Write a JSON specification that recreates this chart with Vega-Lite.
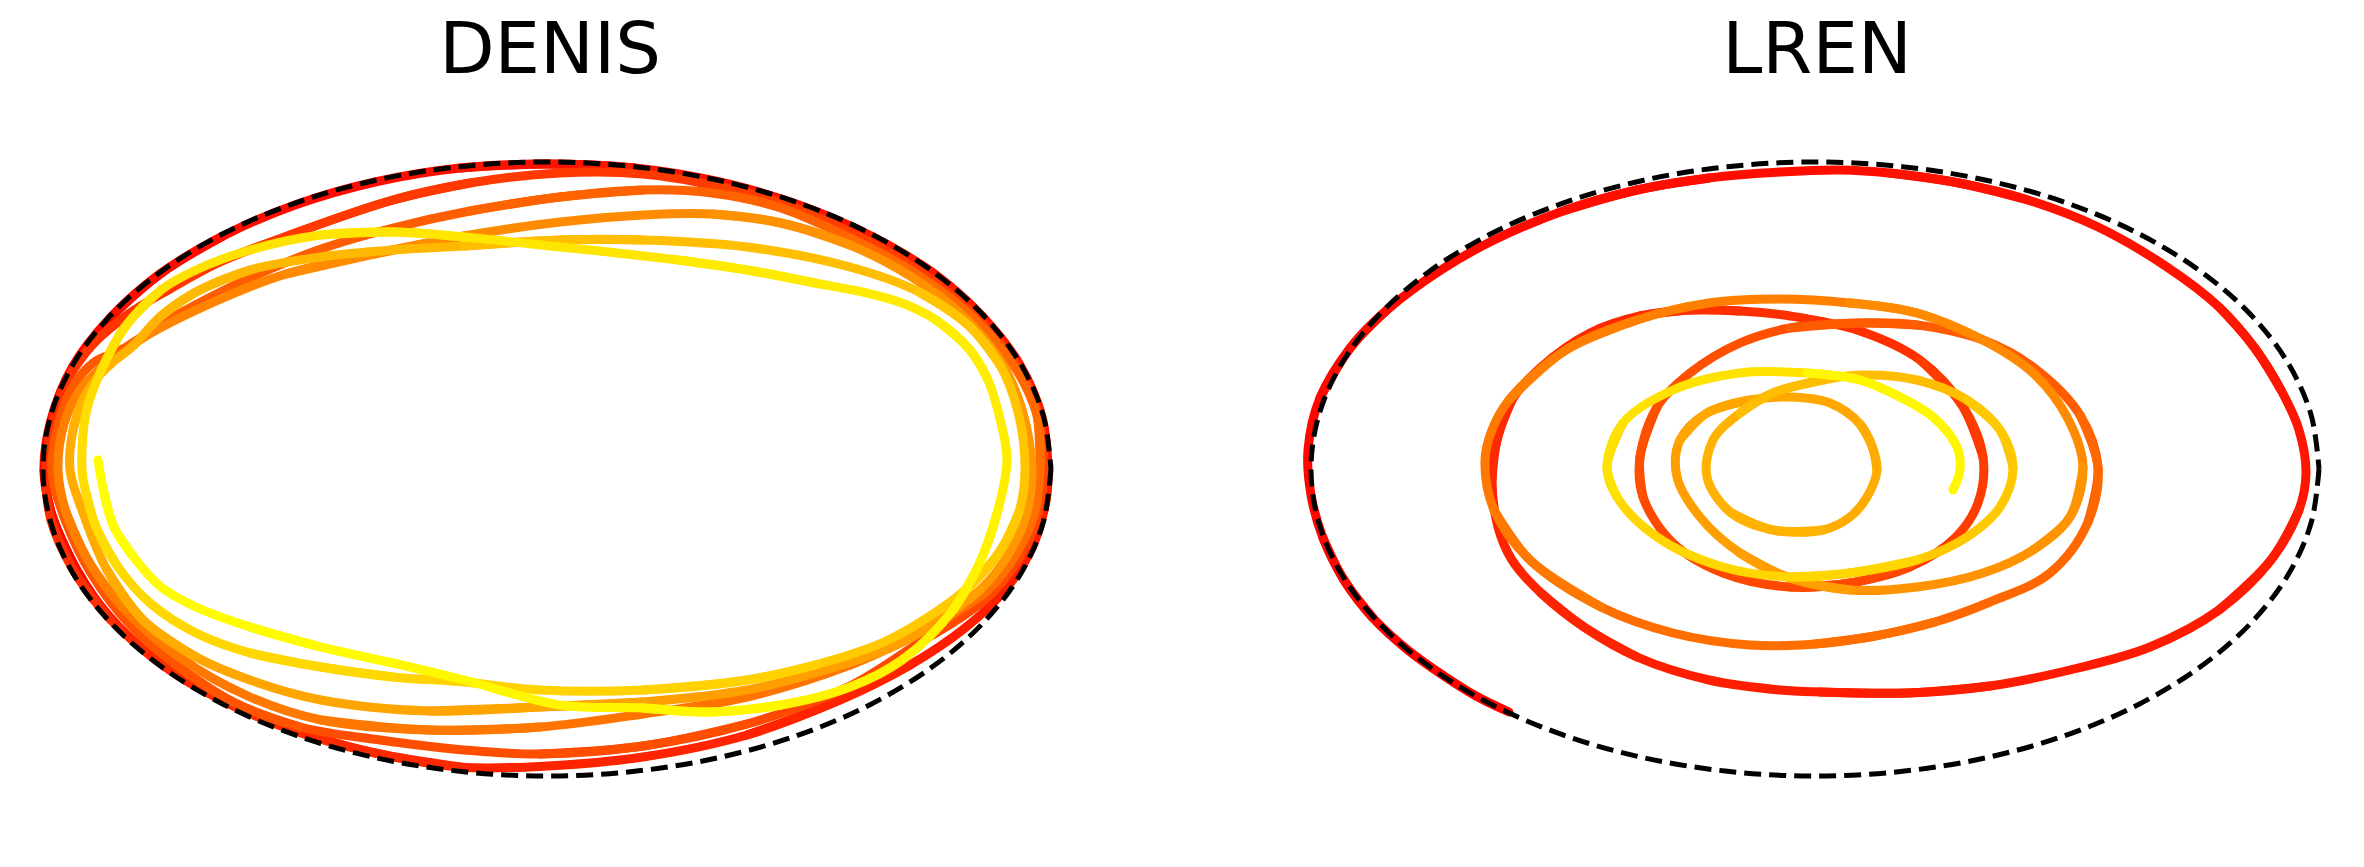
{
"$schema": "https://vega.github.io/schema/vega-lite/v6.json",
"background": "white",
"padding": 0,
"spacing": 170,
"config": {
  "view": {"stroke": null},
  "title": {"font": "DejaVu Sans", "fontSize": 72, "fontWeight": "normal", "color": "black", "anchor": "middle", "baseline": "alphabetic", "offset": -88}
},
"datasets": {
"denis": [
{"x":243,"y":708,"a":0.008},{"x":190,"y":683,"a":0.008},{"x":140,"y":647,"a":0.008},{"x":100,"y":605,"a":0.008},{"x":70,"y":557,"a":0.008,"b":0.028},
{"x":51,"y":512,"a":0.028,"b":0.008},{"x":44,"y":470,"a":0.028,"b":0.008},{"x":51,"y":420,"a":0.028},{"x":73,"y":366,"a":0.028},{"x":110,"y":318,"a":0.028,"b":0.048},
{"x":160,"y":274,"a":0.048,"b":0.028},{"x":223,"y":236,"a":0.048,"b":0.028},{"x":295,"y":205,"a":0.048},{"x":375,"y":182,"a":0.048},{"x":460,"y":168,"a":0.048,"b":0.068},
{"x":547,"y":164,"a":0.068,"b":0.048},{"x":635,"y":168,"a":0.068,"b":0.048},{"x":720,"y":182,"a":0.068},{"x":799,"y":205,"a":0.068},{"x":871,"y":236,"a":0.068,"b":0.09},
{"x":933,"y":273,"a":0.09,"b":0.068},{"x":983,"y":317,"a":0.09,"b":0.068},{"x":1020,"y":365,"a":0.09},{"x":1042,"y":417,"a":0.09},{"x":1048,"y":470,"a":0.09,"b":0.112},
{"x":1046,"y":500,"a":0.112,"b":0.09},{"x":1032,"y":548,"a":0.112,"b":0.09},{"x":1005,"y":590,"a":0.112},{"x":965,"y":628,"a":0.112},{"x":910,"y":665,"a":0.112,"b":0.136},
{"x":840,"y":700,"a":0.136,"b":0.112},{"x":747,"y":735,"a":0.136,"b":0.112},{"x":643,"y":757,"a":0.136},{"x":547,"y":766,"a":0.136},{"x":460,"y":767,"a":0.136,"b":0.16},
{"x":375,"y":753,"a":0.16,"b":0.136},{"x":295,"y":731,"a":0.16,"b":0.136},{"x":223,"y":701,"a":0.16},{"x":161,"y":663,"a":0.16},{"x":111,"y":620,"a":0.16,"b":0.182},
{"x":74,"y":571,"a":0.182,"b":0.16},{"x":51,"y":520,"a":0.182,"b":0.16},{"x":46,"y":470,"a":0.182},{"x":53,"y":420,"a":0.182},{"x":68,"y":378,"a":0.182,"b":0.202},
{"x":94,"y":343,"a":0.202,"b":0.182},{"x":130,"y":313,"a":0.202,"b":0.182},{"x":170,"y":289,"a":0.202},{"x":220,"y":262,"a":0.202},{"x":290,"y":235,"a":0.202,"b":0.222},
{"x":393,"y":200,"a":0.222,"b":0.202},{"x":470,"y":183,"a":0.222,"b":0.202},{"x":560,"y":173,"a":0.222},{"x":643,"y":174,"a":0.222},{"x":712,"y":185,"a":0.222,"b":0.243},
{"x":781,"y":203,"a":0.243,"b":0.222},{"x":850,"y":232,"a":0.243,"b":0.222},{"x":910,"y":265,"a":0.243},{"x":960,"y":302,"a":0.243},{"x":1000,"y":343,"a":0.243,"b":0.263},
{"x":1025,"y":380,"a":0.263,"b":0.243},{"x":1038,"y":415,"a":0.263,"b":0.243},{"x":1044,"y":470,"a":0.263},{"x":1038,"y":515,"a":0.263},{"x":1020,"y":557,"a":0.263,"b":0.283},
{"x":993,"y":592,"a":0.283,"b":0.263},{"x":960,"y":618,"a":0.283,"b":0.263},{"x":919,"y":643,"a":0.283},{"x":850,"y":686,"a":0.283},{"x":747,"y":724,"a":0.283,"b":0.305},
{"x":643,"y":746,"a":0.305,"b":0.283},{"x":540,"y":754,"a":0.305,"b":0.283},{"x":464,"y":750,"a":0.305},{"x":380,"y":740,"a":0.305},{"x":300,"y":727,"a":0.305,"b":0.328},
{"x":235,"y":703,"a":0.328,"b":0.305},{"x":180,"y":668,"a":0.328,"b":0.305},{"x":130,"y":625,"a":0.328},{"x":92,"y":575,"a":0.328},{"x":66,"y":522,"a":0.328,"b":0.35},
{"x":52,"y":470,"a":0.35,"b":0.328},{"x":59,"y":422,"a":0.35,"b":0.328},{"x":72,"y":388,"a":0.35},{"x":93,"y":363,"a":0.35},{"x":125,"y":348,"a":0.35,"b":0.37},
{"x":179,"y":314,"a":0.37,"b":0.35},{"x":250,"y":278,"a":0.37,"b":0.35},{"x":321,"y":249,"a":0.37},{"x":393,"y":228,"a":0.37},{"x":470,"y":211,"a":0.37,"b":0.39},
{"x":560,"y":197,"a":0.39,"b":0.37},{"x":643,"y":190,"a":0.39,"b":0.37},{"x":712,"y":193,"a":0.39},{"x":781,"y":208,"a":0.39},{"x":850,"y":238,"a":0.39,"b":0.41},
{"x":910,"y":270,"a":0.41,"b":0.39},{"x":960,"y":306,"a":0.41,"b":0.39},{"x":1000,"y":347,"a":0.41},{"x":1025,"y":385,"a":0.41},{"x":1038,"y":420,"a":0.41,"b":0.43},
{"x":1040,"y":470,"a":0.43,"b":0.41},{"x":1034,"y":515,"a":0.43,"b":0.41},{"x":1015,"y":556,"a":0.43},{"x":988,"y":590,"a":0.43},{"x":955,"y":613,"a":0.43,"b":0.45},
{"x":910,"y":638,"a":0.45,"b":0.43},{"x":850,"y":665,"a":0.45,"b":0.43},{"x":747,"y":697,"a":0.45},{"x":643,"y":714,"a":0.45},{"x":540,"y":727,"a":0.45,"b":0.473},
{"x":429,"y":730,"a":0.473,"b":0.45},{"x":321,"y":720,"a":0.473,"b":0.45},{"x":250,"y":697,"a":0.473},{"x":179,"y":657,"a":0.473},{"x":125,"y":610,"a":0.473,"b":0.498},
{"x":89,"y":562,"a":0.498,"b":0.473},{"x":66,"y":512,"a":0.498,"b":0.473},{"x":58,"y":470,"a":0.498},{"x":64,"y":424,"a":0.498},{"x":78,"y":393,"a":0.498,"b":0.522},
{"x":98,"y":371,"a":0.522,"b":0.498},{"x":118,"y":357,"a":0.522,"b":0.498},{"x":143,"y":338,"a":0.522},{"x":214,"y":302,"a":0.522},{"x":286,"y":274,"a":0.522,"b":0.547},
{"x":393,"y":250,"a":0.547,"b":0.522},{"x":470,"y":235,"a":0.547,"b":0.522},{"x":560,"y":222,"a":0.547},{"x":643,"y":215,"a":0.547},{"x":712,"y":214,"a":0.547,"b":0.572},
{"x":781,"y":223,"a":0.572,"b":0.547},{"x":850,"y":245,"a":0.572,"b":0.547},{"x":910,"y":276,"a":0.572},{"x":960,"y":313,"a":0.572},{"x":1000,"y":360,"a":0.572,"b":0.597},
{"x":1022,"y":410,"a":0.597,"b":0.572},{"x":1032,"y":470,"a":0.597,"b":0.572},{"x":1026,"y":516,"a":0.597},{"x":1008,"y":555,"a":0.597},{"x":980,"y":590,"a":0.597,"b":0.622},
{"x":943,"y":618,"a":0.622,"b":0.597},{"x":890,"y":648,"a":0.622,"b":0.597},{"x":815,"y":673,"a":0.622},{"x":747,"y":690,"a":0.622},{"x":643,"y":702,"a":0.622,"b":0.647},
{"x":540,"y":707,"a":0.647,"b":0.622},{"x":429,"y":711,"a":0.647,"b":0.622},{"x":321,"y":700,"a":0.647},{"x":250,"y":680,"a":0.647},{"x":196,"y":657,"a":0.647,"b":0.672},
{"x":143,"y":620,"a":0.672,"b":0.647},{"x":107,"y":570,"a":0.672,"b":0.647},{"x":82,"y":510,"a":0.672},{"x":70,"y":470,"a":0.672},{"x":73,"y":430,"a":0.672,"b":0.697},
{"x":82,"y":402,"a":0.697,"b":0.672},{"x":97,"y":378,"a":0.697,"b":0.672},{"x":113,"y":362,"a":0.697},{"x":132,"y":347,"a":0.697},{"x":161,"y":316,"a":0.697,"b":0.722},
{"x":196,"y":292,"a":0.722,"b":0.697},{"x":250,"y":270,"a":0.722,"b":0.697},{"x":321,"y":257,"a":0.722},{"x":393,"y":250,"a":0.722},{"x":464,"y":246,"a":0.722,"b":0.747},
{"x":560,"y":240,"a":0.747,"b":0.722},{"x":643,"y":240,"a":0.747,"b":0.722},{"x":747,"y":247,"a":0.747},{"x":850,"y":267,"a":0.747},{"x":919,"y":292,"a":0.747,"b":0.772},
{"x":968,"y":325,"a":0.772,"b":0.747},{"x":1000,"y":365,"a":0.772,"b":0.747},{"x":1018,"y":412,"a":0.772},{"x":1025,"y":470,"a":0.772},{"x":1019,"y":512,"a":0.772,"b":0.797},
{"x":1000,"y":551,"a":0.797,"b":0.772},{"x":972,"y":584,"a":0.797,"b":0.772},{"x":936,"y":612,"a":0.797},{"x":884,"y":642,"a":0.797},{"x":815,"y":665,"a":0.797,"b":0.822},
{"x":747,"y":680,"a":0.822,"b":0.797},{"x":643,"y":690,"a":0.822,"b":0.797},{"x":540,"y":690,"a":0.822},{"x":464,"y":682,"a":0.822},{"x":393,"y":677,"a":0.822,"b":0.847},
{"x":321,"y":667,"a":0.847,"b":0.822},{"x":250,"y":653,"a":0.847,"b":0.822},{"x":196,"y":633,"a":0.847},{"x":150,"y":603,"a":0.847},{"x":118,"y":567,"a":0.847,"b":0.868},
{"x":96,"y":527,"a":0.868,"b":0.847},{"x":86,"y":493,"a":0.868,"b":0.847},{"x":82,"y":470,"a":0.868},{"x":86,"y":413,"a":0.868},{"x":100,"y":373,"a":0.868,"b":0.885},
{"x":125,"y":327,"a":0.885,"b":0.868},{"x":161,"y":290,"a":0.885,"b":0.868},{"x":196,"y":270,"a":0.885},{"x":250,"y":250,"a":0.885},{"x":321,"y":235,"a":0.885,"b":0.902},
{"x":393,"y":232,"a":0.902,"b":0.885},{"x":464,"y":237,"a":0.902,"b":0.885},{"x":560,"y":247,"a":0.902},{"x":609,"y":252,"a":0.902},{"x":678,"y":260,"a":0.902,"b":0.918},
{"x":747,"y":270,"a":0.918,"b":0.902},{"x":815,"y":283,"a":0.918,"b":0.902},{"x":867,"y":293,"a":0.918},{"x":902,"y":303,"a":0.918},{"x":936,"y":320,"a":0.918,"b":0.935},
{"x":970,"y":350,"a":0.935,"b":0.918},{"x":988,"y":380,"a":0.935,"b":0.918},{"x":1001,"y":423,"a":0.935},{"x":1007,"y":460,"a":0.935},{"x":998,"y":510,"a":0.935,"b":0.952},
{"x":981,"y":560,"a":0.952,"b":0.935},{"x":953,"y":610,"a":0.952,"b":0.935},{"x":902,"y":660,"a":0.952},{"x":850,"y":687,"a":0.952},{"x":781,"y":705,"a":0.952,"b":0.968},
{"x":712,"y":712,"a":0.968,"b":0.952},{"x":643,"y":708,"a":0.968,"b":0.952},{"x":560,"y":705,"a":0.968},{"x":464,"y":680,"a":0.968},{"x":393,"y":663,"a":0.968,"b":0.985},
{"x":321,"y":647,"a":0.985,"b":0.968},{"x":250,"y":627,"a":0.985,"b":0.968},{"x":196,"y":607,"a":0.985},{"x":161,"y":587,"a":0.985},{"x":136,"y":560,"a":0.985,"b":1},
{"x":114,"y":527,"a":1,"b":0.985},{"x":104,"y":493,"a":1,"b":0.985},{"x":98,"y":460,"a":1}
],
"lren": [
{"x":1509,"y":712,"a":0.006},{"x":1476,"y":696,"a":0.006},{"x":1444,"y":676,"a":0.006},{"x":1409,"y":651,"a":0.006},{"x":1373,"y":618,"a":0.006,"b":0.023},
{"x":1344,"y":580,"a":0.023,"b":0.006},{"x":1323,"y":538,"a":0.023,"b":0.006},{"x":1311,"y":495,"a":0.023},{"x":1308,"y":450,"a":0.023},{"x":1320,"y":398,"a":0.023,"b":0.038},
{"x":1351,"y":347,"a":0.038,"b":0.023},{"x":1387,"y":310,"a":0.038,"b":0.023},{"x":1441,"y":270,"a":0.038},{"x":1494,"y":240,"a":0.038},{"x":1566,"y":210,"a":0.038,"b":0.055},
{"x":1637,"y":190,"a":0.055,"b":0.038},{"x":1709,"y":178,"a":0.055,"b":0.038},{"x":1780,"y":172,"a":0.055},{"x":1840,"y":170,"a":0.055},{"x":1889,"y":173,"a":0.055,"b":0.071},
{"x":1959,"y":183,"a":0.071,"b":0.055},{"x":2028,"y":200,"a":0.071,"b":0.055},{"x":2098,"y":227,"a":0.071},{"x":2167,"y":267,"a":0.071},{"x":2219,"y":307,"a":0.071,"b":0.087},
{"x":2254,"y":347,"a":0.087,"b":0.071},{"x":2281,"y":390,"a":0.087,"b":0.071},{"x":2299,"y":430,"a":0.087},{"x":2306,"y":473,"a":0.087},{"x":2299,"y":510,"a":0.087,"b":0.104},
{"x":2271,"y":560,"a":0.104,"b":0.087},{"x":2219,"y":610,"a":0.104,"b":0.087},{"x":2150,"y":647,"a":0.104},{"x":2078,"y":668,"a":0.104},{"x":1990,"y":686,"a":0.104,"b":0.12},
{"x":1907,"y":693,"a":0.12,"b":0.104},{"x":1820,"y":692,"a":0.12,"b":0.104},{"x":1780,"y":690,"a":0.12},{"x":1709,"y":680,"a":0.12},{"x":1637,"y":657,"a":0.12,"b":0.14},
{"x":1584,"y":627,"a":0.14,"b":0.12},{"x":1541,"y":593,"a":0.14,"b":0.12},{"x":1512,"y":560,"a":0.14},{"x":1498,"y":527,"a":0.14},{"x":1492,"y":480,"a":0.14,"b":0.16},
{"x":1497,"y":440,"a":0.16,"b":0.14},{"x":1512,"y":400,"a":0.16,"b":0.14},{"x":1540,"y":368,"a":0.16},{"x":1590,"y":333,"a":0.16},{"x":1640,"y":316,"a":0.16,"b":0.185},
{"x":1690,"y":310,"a":0.185,"b":0.16},{"x":1740,"y":311,"a":0.185,"b":0.16},{"x":1790,"y":316,"a":0.185},{"x":1860,"y":331,"a":0.185},{"x":1920,"y":360,"a":0.185,"b":0.235},
{"x":1962,"y":405,"a":0.235,"b":0.185},{"x":1983,"y":457,"a":0.235,"b":0.185},{"x":1978,"y":503,"a":0.235},{"x":1955,"y":538,"a":0.235},{"x":1910,"y":567,"a":0.235,"b":0.285},
{"x":1850,"y":583,"a":0.285,"b":0.235},{"x":1790,"y":587,"a":0.285,"b":0.235},{"x":1723,"y":573,"a":0.285},{"x":1673,"y":543,"a":0.285},{"x":1643,"y":497,"a":0.285,"b":0.315},
{"x":1640,"y":457,"a":0.315,"b":0.285},{"x":1657,"y":407,"a":0.315,"b":0.285},{"x":1690,"y":373,"a":0.315},{"x":1740,"y":343,"a":0.315},{"x":1790,"y":328,"a":0.315,"b":0.355},
{"x":1860,"y":323,"a":0.355,"b":0.315},{"x":1917,"y":325,"a":0.355,"b":0.315},{"x":1983,"y":340,"a":0.355},{"x":2033,"y":367,"a":0.355},{"x":2080,"y":415,"a":0.355,"b":0.405},
{"x":2098,"y":467,"a":0.405,"b":0.355},{"x":2088,"y":522,"a":0.405,"b":0.355},{"x":2050,"y":573,"a":0.405},{"x":1990,"y":602,"a":0.405},{"x":1935,"y":622,"a":0.405,"b":0.435},
{"x":1875,"y":636,"a":0.435,"b":0.405},{"x":1815,"y":644,"a":0.435,"b":0.405},{"x":1750,"y":645,"a":0.435},{"x":1673,"y":633,"a":0.435},{"x":1601,"y":607,"a":0.435,"b":0.475},
{"x":1530,"y":560,"a":0.475,"b":0.435},{"x":1494,"y":510,"a":0.475,"b":0.435},{"x":1485,"y":460,"a":0.475},{"x":1492,"y":430,"a":0.475},{"x":1509,"y":400,"a":0.475,"b":0.5},
{"x":1566,"y":350,"a":0.5,"b":0.475},{"x":1637,"y":320,"a":0.5,"b":0.475},{"x":1709,"y":303,"a":0.5},{"x":1780,"y":299,"a":0.5},{"x":1850,"y":303,"a":0.5,"b":0.54},
{"x":1917,"y":313,"a":0.54,"b":0.5},{"x":1983,"y":340,"a":0.54,"b":0.5},{"x":2033,"y":373,"a":0.54},{"x":2067,"y":417,"a":0.54},{"x":2083,"y":467,"a":0.54,"b":0.58},
{"x":2070,"y":517,"a":0.58,"b":0.54},{"x":2033,"y":550,"a":0.58,"b":0.54},{"x":1983,"y":573,"a":0.58},{"x":1917,"y":587,"a":0.58},{"x":1850,"y":590,"a":0.58,"b":0.62},
{"x":1790,"y":578,"a":0.62,"b":0.58},{"x":1740,"y":553,"a":0.62,"b":0.58},{"x":1700,"y":517,"a":0.62},{"x":1677,"y":477,"a":0.62},{"x":1680,"y":440,"a":0.62,"b":0.65},
{"x":1707,"y":413,"a":0.65,"b":0.62},{"x":1750,"y":400,"a":0.65,"b":0.62},{"x":1790,"y":397,"a":0.65},{"x":1830,"y":403,"a":0.65},{"x":1860,"y":424,"a":0.65,"b":0.675},
{"x":1872,"y":446,"a":0.675,"b":0.65},{"x":1877,"y":470,"a":0.675,"b":0.65},{"x":1867,"y":497,"a":0.675},{"x":1850,"y":517,"a":0.675},{"x":1823,"y":530,"a":0.675,"b":0.7},
{"x":1773,"y":530,"a":0.7,"b":0.675},{"x":1730,"y":512,"a":0.7,"b":0.675},{"x":1707,"y":477,"a":0.7},{"x":1713,"y":440,"a":0.7},{"x":1740,"y":413,"a":0.7,"b":0.74},
{"x":1773,"y":393,"a":0.74,"b":0.7},{"x":1823,"y":380,"a":0.74,"b":0.7},{"x":1860,"y":375,"a":0.74},{"x":1917,"y":380,"a":0.74},{"x":1967,"y":400,"a":0.74,"b":0.79},
{"x":2000,"y":430,"a":0.79,"b":0.74},{"x":2013,"y":467,"a":0.79,"b":0.74},{"x":2000,"y":507,"a":0.79},{"x":1967,"y":537,"a":0.79},{"x":1917,"y":560,"a":0.79,"b":0.84},
{"x":1850,"y":573,"a":0.84,"b":0.79},{"x":1790,"y":577,"a":0.84,"b":0.79},{"x":1723,"y":567,"a":0.84},{"x":1657,"y":537,"a":0.84},{"x":1617,"y":497,"a":0.84,"b":0.885},
{"x":1607,"y":467,"a":0.885,"b":0.84},{"x":1623,"y":423,"a":0.885,"b":0.84},{"x":1673,"y":390,"a":0.885},{"x":1740,"y":373,"a":0.885},{"x":1807,"y":373,"a":0.885,"b":0.97},
{"x":1860,"y":380,"a":0.97,"b":0.885},{"x":1900,"y":397,"a":0.97,"b":0.885},{"x":1933,"y":417,"a":0.97},{"x":1957,"y":447,"a":0.97},{"x":1960,"y":470,"a":0.97},
{"x":1953,"y":490,"a":0.97}
],
"ellD": [
{"x":1051,"y":469},{"x":1043.3,"y":522.3},{"x":1020.6,"y":574},{"x":983.5,"y":622.5},{"x":933.1,"y":666.3},{"x":871,"y":704.2},{"x":799,"y":734.9},{"x":719.4,"y":757.5},{"x":634.5,"y":771.3},{"x":547,"y":776},{"x":459.5,"y":771.3},{"x":374.6,"y":757.5},{"x":295,"y":734.9},{"x":223,"y":704.2},{"x":160.9,"y":666.3},{"x":110.5,"y":622.5},{"x":73.4,"y":574},{"x":50.7,"y":522.3},{"x":43,"y":469},{"x":50.7,"y":415.7},{"x":73.4,"y":364},{"x":110.5,"y":315.5},{"x":160.9,"y":271.7},{"x":223,"y":233.8},{"x":295,"y":203.1},{"x":374.6,"y":180.5},{"x":459.5,"y":166.7},{"x":547,"y":162},{"x":634.5,"y":166.7},{"x":719.4,"y":180.5},{"x":799,"y":203.1},{"x":871,"y":233.8},{"x":933.1,"y":271.7},{"x":983.5,"y":315.5},{"x":1020.6,"y":364},{"x":1043.3,"y":415.7},{"x":1051,"y":469}
],
"ellL": [
{"x":2319,"y":469},{"x":2311.3,"y":522.3},{"x":2288.6,"y":574},{"x":2251.5,"y":622.5},{"x":2201.1,"y":666.3},{"x":2139,"y":704.2},{"x":2067,"y":734.9},{"x":1987.4,"y":757.5},{"x":1902.5,"y":771.3},{"x":1815,"y":776},{"x":1727.5,"y":771.3},{"x":1642.6,"y":757.5},{"x":1563,"y":734.9},{"x":1491,"y":704.2},{"x":1428.9,"y":666.3},{"x":1378.5,"y":622.5},{"x":1341.4,"y":574},{"x":1318.7,"y":522.3},{"x":1311,"y":469},{"x":1318.7,"y":415.7},{"x":1341.4,"y":364},{"x":1378.5,"y":315.5},{"x":1428.9,"y":271.7},{"x":1491,"y":233.8},{"x":1563,"y":203.1},{"x":1642.6,"y":180.5},{"x":1727.5,"y":166.7},{"x":1815,"y":162},{"x":1902.5,"y":166.7},{"x":1987.4,"y":180.5},{"x":2067,"y":203.1},{"x":2139,"y":233.8},{"x":2201.1,"y":271.7},{"x":2251.5,"y":315.5},{"x":2288.6,"y":364},{"x":2311.3,"y":415.7},{"x":2319,"y":469}
]
},
"hconcat": [
{
 "title": "DENIS",
 "width": 1100, "height": 867,
 "layer": [
  {
   "data": {"name": "denis"},
   "transform": [{"fold": ["a", "b"], "as": ["k", "t"]}, {"filter": "isValid(datum.t)"}],
   "mark": {"type": "line", "strokeWidth": 9, "strokeCap": "round", "strokeJoin": "round", "interpolate": "catmull-rom"},
   "encoding": {
     "x": {"field": "x", "type": "quantitative", "scale": {"domain": [0, 1100], "nice": false, "zero": false}, "axis": null},
     "y": {"field": "y", "type": "quantitative", "scale": {"domain": [0, 867], "nice": false, "zero": false, "reverse": true}, "axis": null},
     "color": {"field": "t", "type": "quantitative", "scale": {"domain": [0, 1], "range": ["#ff0000", "#ffff00"], "interpolate": "rgb"}, "legend": null},
     "order": {"value": null}
   }
  },
  {
   "data": {"name": "ellD"},
   "mark": {"type": "line", "color": "black", "strokeWidth": 5, "strokeDash": [17, 8], "interpolate": "catmull-rom"},
   "encoding": {
     "x": {"field": "x", "type": "quantitative", "scale": {"domain": [0, 1100], "nice": false, "zero": false}, "axis": null},
     "y": {"field": "y", "type": "quantitative", "scale": {"domain": [0, 867], "nice": false, "zero": false, "reverse": true}, "axis": null},
     "order": {"value": null}
   }
  }
 ]
},
{
 "title": "LREN",
 "width": 1094, "height": 867,
 "layer": [
  {
   "data": {"name": "lren"},
   "transform": [{"fold": ["a", "b"], "as": ["k", "t"]}, {"filter": "isValid(datum.t)"}],
   "mark": {"type": "line", "strokeWidth": 9, "strokeCap": "round", "strokeJoin": "round", "interpolate": "catmull-rom"},
   "encoding": {
     "x": {"field": "x", "type": "quantitative", "scale": {"domain": [1270, 2364], "nice": false, "zero": false}, "axis": null},
     "y": {"field": "y", "type": "quantitative", "scale": {"domain": [0, 867], "nice": false, "zero": false, "reverse": true}, "axis": null},
     "color": {"field": "t", "type": "quantitative", "scale": {"domain": [0, 1], "range": ["#ff0000", "#ffff00"], "interpolate": "rgb"}, "legend": null},
     "order": {"value": null}
   }
  },
  {
   "data": {"name": "ellL"},
   "mark": {"type": "line", "color": "black", "strokeWidth": 5, "strokeDash": [17, 8], "interpolate": "catmull-rom"},
   "encoding": {
     "x": {"field": "x", "type": "quantitative", "scale": {"domain": [1270, 2364], "nice": false, "zero": false}, "axis": null},
     "y": {"field": "y", "type": "quantitative", "scale": {"domain": [0, 867], "nice": false, "zero": false, "reverse": true}, "axis": null},
     "order": {"value": null}
   }
  }
 ]
}
]
}
